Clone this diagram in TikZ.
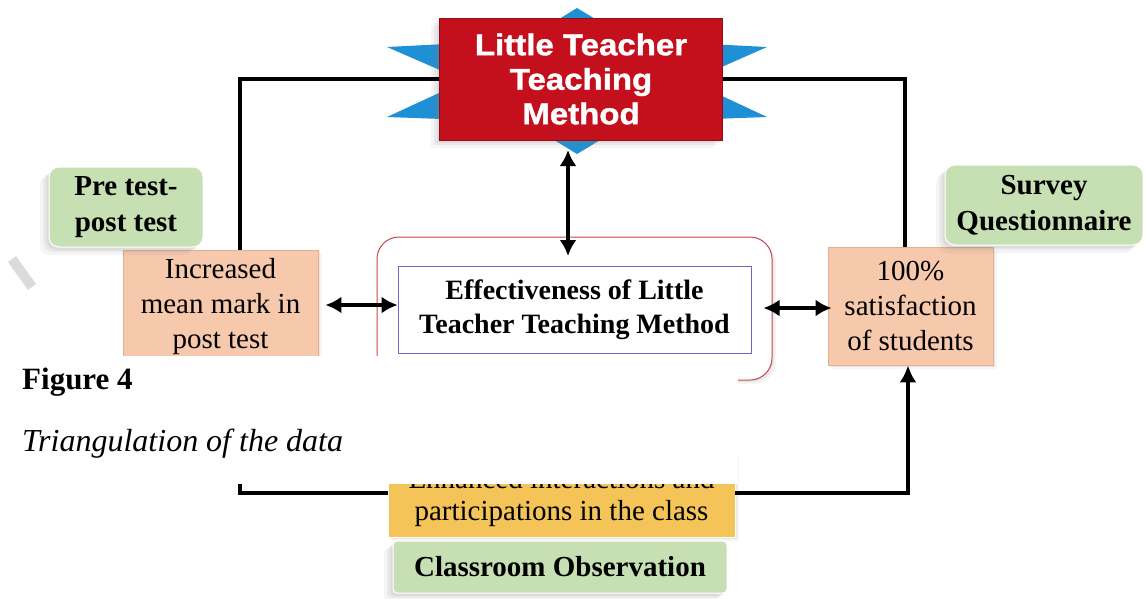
\documentclass[tikz,border=0pt]{standalone}
\usepackage{fontspec}
\setmainfont{Liberation Serif}
\newfontfamily\heavy[FakeStretch=1.1,FakeBold=1.2]{Liberation Sans}
\usetikzlibrary{arrows.meta,shadows,calc}
\definecolor{ltred}{RGB}{196,16,28}
\definecolor{ltredborder}{RGB}{150,10,20}
\definecolor{starblue}{RGB}{30,144,214}
\definecolor{salmon}{RGB}{246,200,172}
\definecolor{salmonborder}{RGB}{225,175,145}
\definecolor{lgreen}{RGB}{198,224,180}
\definecolor{yel}{RGB}{244,196,88}
\definecolor{outerred}{RGB}{200,70,80}
\definecolor{innerpurple}{RGB}{120,100,200}
\begin{document}
\begin{tikzpicture}[x=1pt,y=-1pt,
  every node/.style={inner sep=0pt, align=center},
  regtext/.style={font=\fontsize{29}{35}\selectfont},
  boldtext/.style={font=\bfseries\fontsize{29}{36}\selectfont},
  softleft/.style={
    drop shadow={shadow xshift=-3pt, shadow yshift=-3pt, opacity=0.12},
    drop shadow={shadow xshift=-6pt, shadow yshift=-5pt, opacity=0.10},
    drop shadow={shadow xshift=-9pt, shadow yshift=-8pt, opacity=0.08}},
  softright/.style={
    drop shadow={shadow xshift=2pt, shadow yshift=-2pt, opacity=0.12},
    drop shadow={shadow xshift=4pt, shadow yshift=-4pt, opacity=0.08}},
  redbox/.style={fill=ltred, draw=ltredborder, line width=0.8pt, text=white,
    font=\heavy\bfseries\fontsize{30}{34.5}\selectfont, softleft},
  greenbox/.style={fill=lgreen, draw=white, line width=1pt, rounded corners=10pt,
    boldtext, softleft},
  salmonbox/.style={fill=salmon, draw=salmonborder, line width=0.8pt, regtext, softright},
  yellowbox/.style={fill=yel, draw=white, line width=0.8pt, softright},
  conn/.style={line width=3.6pt, black},
  dbl/.style={line width=3.4pt, {Latex[length=16pt,width=17pt]}-{Latex[length=16pt,width=17pt]}},
  onearrow/.style={line width=3.6pt, -{Latex[length=17pt,width=17pt]}}
]
\useasboundingbox (0,0) rectangle (1145,598);

% watermark fragment
\draw[gray!28, line width=10pt] (12,259) -- (32,287);

% star behind title
\fill[starblue] (577,8) -- (630,40) -- (767,47) -- (690,81) -- (767,117) -- (630,122)
  -- (577,154) -- (525,122) -- (387,117) -- (465,81) -- (387,47) -- (525,40) -- cycle;

% connector corners
\coordinate (tl) at (240,78);
\coordinate (tr) at (905,78);
\coordinate (bl) at (240,493);
\coordinate (br) at (908,493);
\coordinate (startip) at (568,150);
\coordinate (outtop) at (568,256);

% nodes
\node[redbox, minimum width=283pt, minimum height=122pt] (ltm) at (581,79) {Little Teacher\\Teaching\\Method};

\draw[conn] (ltm.west) -- (ltm.west -| tl) -- (tl |- 0,250);
\draw[conn] (ltm.east) -- (ltm.east -| tr) -- (tr |- 0,247);

\node[salmonbox, minimum width=195pt, minimum height=114pt] (inc) at (220.5,307) {Increased\\mean mark in\\post test};
\node[greenbox, minimum width=154pt, minimum height=80pt] (pre) at (126,207) {Pre test-\\post test};

\node[salmonbox, minimum width=165pt, minimum height=118pt] (sat) at (910.5,306) {100\%\\satisfaction\\of students};
\node[greenbox, minimum width=198pt, minimum height=80pt] (survey) at (1044,205) {Survey\\Questionnaire};

\node[draw=outerred, line width=1pt, fill=white, rounded corners=22pt,
  minimum width=395pt, minimum height=143pt, softright] (outer) at (574.5,308.5) {};
\node[draw=innerpurple, line width=0.8pt, fill=white, minimum width=353pt, minimum height=87pt,
  font=\bfseries\fontsize{28}{34}\selectfont] (inner) at (574.5,309.5) {Effectiveness of Little\\Teacher Teaching Method};

\node[yellowbox, minimum width=347pt, minimum height=85pt] (yb) at (561.5,494.5) {};
\node[font=\fontsize{29}{32}\selectfont] (ybtext) at (561.5,498) {Enhanced interactions and\\participations in the class};
\node[greenbox, rounded corners=4pt, minimum width=334pt, minimum height=52pt] (obs) at (560,567) {Classroom Observation};

% arrows
\draw[dbl] (startip) -- (outtop);
\draw[dbl] ([xshift=7pt]inc.east |- 0,305) -- (inner.west |- 0,305);
\draw[dbl] ([xshift=-9pt]outer.east |- 0,308) -- ([xshift=4pt]sat.west |- 0,308);
\draw[onearrow] (yb.east |- br) -- (br) -- (br |- sat.south);
\draw[onearrow] (yb.west |- bl) -- (bl) -- (bl |- inc.south);

% overlay with caption
\fill[white] (0,356) rectangle (738,484);
\node[anchor=base west, font=\bfseries\fontsize{31}{36}\selectfont] (cap1) at (22,389) {Figure 4};
\node[anchor=base west, font=\itshape\fontsize{32}{36}\selectfont] (cap2) at (22,451) {Triangulation of the data};
\end{tikzpicture}
\end{document}
